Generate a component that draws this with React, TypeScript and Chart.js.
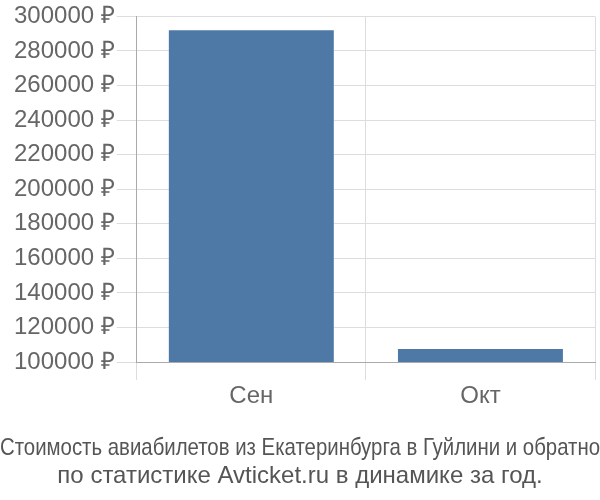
import { useEffect, useRef } from "react";
import { Chart, registerables } from "chart.js";

Chart.register(...registerables);

// ── Data ───────────────────────────────────────────────────────────────────
const MONTHS = ["Сен", "Окт"];
const PRICES = [292000, 107500];
const Y_MIN = 100000;
const Y_MAX = 300000;
const Y_STEP = 20000;
const TITLE = [
  "Стоимость авиабилетов из Екатеринбурга в Гуйлини и обратно",
  "по статистике Avticket.ru в динамике за год.",
];

const FONT = "'Liberation Sans', Arial, sans-serif";

export default function App() {
  const canvasRef = useRef<HTMLCanvasElement>(null);

  useEffect(() => {
    if (!canvasRef.current) return;
    const chart = new Chart(canvasRef.current, {
      type: "bar",
      data: {
        labels: MONTHS,
        datasets: [{
          data: PRICES,
          backgroundColor: "#4e79a7",
          barPercentage: 0.72,
          categoryPercentage: 1,
        }],
      },
      options: {
        responsive: false,
        animation: false,
        layout: { padding: 0 },
        scales: {
          x: {
            grid: { color: "#dddddd", tickLength: 18, offset: true },
            border: { color: "#aaaaaa" },
            ticks: { font: { family: FONT, size: 24 }, color: "#666", padding: 2 },
          },
          y: {
            min: Y_MIN,
            max: Y_MAX,
            grid: { color: "#dddddd", tickLength: 20 },
            border: { color: "#aaaaaa" },
            afterFit: (s) => { s.width += 12; },
            ticks: {
              stepSize: Y_STEP,
              font: { family: FONT, size: 24 },
              color: "#666",
              padding: 2,
              callback: (v) => `${v} ₽`,
            },
          },
          // empty strip on the right so the title can still use the full width
          yRight: {
            position: "right",
            min: Y_MIN,
            max: Y_MAX,
            grid: { display: false },
            border: { display: false },
            ticks: { display: false },
            afterFit: (s) => { s.width = 5; },
          },
        },
        plugins: {
          legend: { display: false },
          tooltip: { enabled: false },
          title: {
            display: true,
            position: "bottom",
            text: TITLE,
            color: "#555",
            font: { family: FONT, size: 24, weight: "normal", lineHeight: 1.15 },
            padding: { top: 22, bottom: 10 },
          },
        },
      },
    });
    return () => { chart.destroy(); };
  }, []);

  return (
    <div style={{ position: "absolute", left: 0, top: 0, width: 600, height: 500, background: "#fff" }}>
      <canvas ref={canvasRef} width={600} height={500} />
    </div>
  );
}
